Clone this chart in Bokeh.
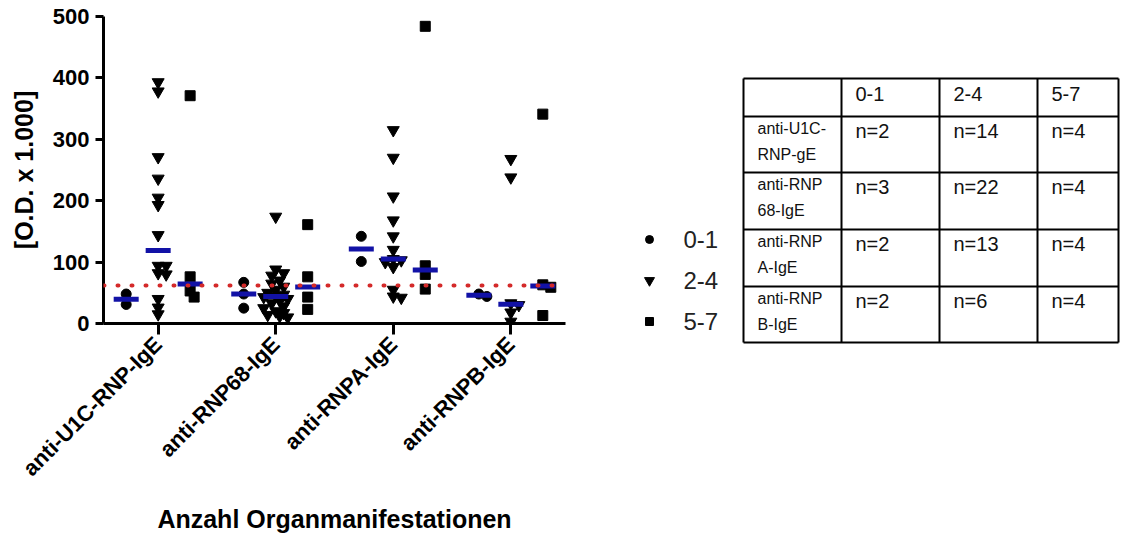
import numpy as np
from bokeh.plotting import figure
from bokeh.models import Range1d, FixedTicker, Span
from bokeh.layouts import row
from bokeh.embed import file_html
from bokeh.resources import INLINE
from bokeh.core.properties import value

# ---------------- data ----------------
categories = ["anti-U1C-RNP-IgE", "anti-RNP68-IgE", "anti-RNPA-IgE", "anti-RNPB-IgE"]
groups = ["0-1", "2-4", "5-7"]

u1c_01 = [48, 31]
u1c_24 = [393, 378, 271, 236, 205, 193, 144, 94, 94, 82, 80, 40, 26, 15]
u1c_57 = [371, 76, 53, 43]

rnp68_01 = [67, 48, 25]
rnp68_24 = [174, 88, 82, 78, 70, 65, 60, 55, 50, 47, 45, 43, 40, 37, 33, 28,
            25, 20, 17, 14, 12, 10]
rnp68_57 = [161, 76, 43, 23]

rnpa_01 = [142, 101]
rnpa_24 = [315, 270, 207, 168, 142, 120, 105, 103, 100, 92, 55, 44, 42]
rnpa_57 = [484, 94, 80, 56]

rnpb_01 = [48, 44]
rnpb_24 = [268, 238, 33, 30, 18, 3]
rnpb_57 = [341, 63, 59, 13]

cutoff = 62
y_ticks = [0, 100, 200, 300, 400, 500]

table_header = ["", "0-1", "2-4", "5-7"]
table_rows = [["anti-U1C-", "RNP-gE"], ["anti-RNP", "68-IgE"],
              ["anti-RNP", "A-IgE"], ["anti-RNP", "B-IgE"]]
table_n_01 = [2, 3, 2, 2]
table_n_24 = [14, 22, 13, 6]
table_n_57 = [4, 4, 4, 4]

series = {
    "0-1": [u1c_01, rnp68_01, rnpa_01, rnpb_01],
    "2-4": [u1c_24, rnp68_24, rnpa_24, rnpb_24],
    "5-7": [u1c_57, rnp68_57, rnpa_57, rnpb_57],
}

# ---------------- layout constants ----------------
FONT = "Liberation Sans"
FRAME_W, FRAME_H = 462, 307
X0, X1 = -0.465, 3.465
Y0, Y1 = 0, 500
PX_X = FRAME_W / (X1 - X0)
PX_Y = FRAME_H / (Y1 - Y0)
SUB_OFF = 0.272
markers = {"0-1": ("circle", 10), "2-4": ("inverted_triangle", 12), "5-7": ("square", 10)}


def swarm(vals, step=4.0, dmin=6.5):
    placed = []
    offs = [0.0] * len(vals)
    order = sorted(range(len(vals)), key=lambda i: -vals[i])
    cands = [0.0]
    for m in range(1, 4):
        cands += [m * step, -m * step]
    for i in order:
        ypx = vals[i] * PX_Y
        best, best_d = 0.0, -1
        for c in cands:
            d = min([((c - px) ** 2 + (ypx - py) ** 2) ** 0.5 for px, py in placed] or [99])
            if d >= dmin:
                best = c
                break
            if d > best_d:
                best, best_d = c, d
        placed.append((best, ypx))
        offs[i] = best / PX_X
    return offs


p = figure(frame_width=FRAME_W, frame_height=FRAME_H,
           x_range=Range1d(X0, X1), y_range=Range1d(Y0, Y1),
           output_backend="svg", toolbar_location=None,
           min_border_left=103, min_border_right=35, min_border_top=16,
           min_border_bottom=204, outline_line_color=None)
p.grid.visible = False

for j, g in enumerate(groups):
    xs, ys, mx, my = [], [], [], []
    for ci, vals in enumerate(series[g]):
        cx = ci + (j - 1) * SUB_OFF
        offs = swarm(vals)
        xs += [cx + o for o in offs]
        ys += list(vals)
        mx.append(cx)
        my.append(float(np.median(vals)))
    mk, sz = markers[g]
    p.scatter(x=xs, y=ys, marker=mk, size=sz, fill_color="black", line_color="black")
    p.rect(x=mx, y=my, width=25, height=5, width_units="screen",
           height_units="screen", fill_color="#1212a6", line_color=None)

p.add_layout(Span(location=cutoff, dimension="width", line_color="#d42a2a",
                  line_width=4, line_dash="1 13", line_cap="round"))

# axes
p.yaxis.ticker = FixedTicker(ticks=y_ticks)
p.xaxis.ticker = FixedTicker(ticks=list(range(len(categories))))
p.xaxis.major_label_overrides = {i: c for i, c in enumerate(categories)}
p.xaxis.major_label_orientation = np.pi / 4
for ax in (p.xaxis, p.yaxis):
    ax.axis_line_width = 3
    ax.axis_line_color = "black"
    ax.major_tick_line_width = 3
    ax.major_tick_line_color = "black"
    ax.major_tick_in = 0
    ax.minor_tick_out = 0
    ax.minor_tick_in = 0
    ax.major_label_text_font = FONT
    ax.major_label_text_font_style = "bold"
    ax.major_label_text_color = "black"
    ax.axis_label_text_font = FONT
    ax.axis_label_text_font_style = "bold"
    ax.axis_label_text_color = "black"
    ax.axis_label_text_font_size = "25px"
p.yaxis.major_tick_out = 8
p.yaxis.major_label_text_font_size = "22px"
p.yaxis.major_label_standoff = 6
p.yaxis.axis_label = "[O.D. x 1.000]"
p.yaxis.axis_label_standoff = 12
p.xaxis.major_tick_out = 11
p.xaxis.major_label_text_font_size = "22px"
p.xaxis.major_label_standoff = 6
p.xaxis.axis_label = "Anzahl Organmanifestationen"
p.xaxis.axis_label_standoff = 12

# ---------------- legend + table panel ----------------
P2_X0, P2_W, P2_H = 600, 526, 527
p2 = figure(frame_width=P2_W, frame_height=P2_H,
            x_range=Range1d(P2_X0, P2_X0 + P2_W), y_range=Range1d(P2_H, 0),
            output_backend="svg", toolbar_location=None, min_border=0,
            outline_line_color=None, x_axis_location=None, y_axis_location=None)
p2.grid.visible = False

# legend
LEG_X, LEG_Y, LEG_DY = 649, 223, 41
leg_y = [LEG_Y + k * LEG_DY for k in range(len(groups))]
for k, g in enumerate(groups):
    mk, sz = markers[g]
    p2.scatter(x=[LEG_X], y=[leg_y[k]], marker=mk, size=sz - 2,
               fill_color="black", line_color="black")
p2.text(x=[LEG_X + 34] * len(groups), y=leg_y, text=groups,
        text_font=value(FONT), text_font_size="24px", text_color="#222222",
        text_baseline="middle", text_align="left")

# table
T_LEFT, T_TOP = 743, 62
col_w = [98, 98, 98, 81]
row_h = [38, 56, 57, 57, 56]
col_x = [T_LEFT]
for w in col_w:
    col_x.append(col_x[-1] + w)
row_y = [T_TOP]
for h in row_h:
    row_y.append(row_y[-1] + h)

p2.segment(x0=col_x, y0=[row_y[0]] * len(col_x), x1=col_x, y1=[row_y[-1]] * len(col_x),
           line_color="black", line_width=2)
p2.segment(x0=[col_x[0]] * len(row_y), y0=row_y, x1=[col_x[-1]] * len(row_y), y1=row_y,
           line_color="black", line_width=2)

PAD = 14
p2.text(x=[col_x[c] + PAD for c in range(1, 4)], y=[row_y[0] + 15] * 3,
        text=table_header[1:], text_font=value(FONT), text_font_size="20px",
        text_color="#111111", text_baseline="middle", text_align="left")
lab_x, lab_y, lab_t = [], [], []
nx, ny, nt = [], [], []
for r in range(len(table_rows)):
    top = row_y[r + 1]
    lab_x += [col_x[0] + PAD, col_x[0] + PAD]
    lab_y += [top + 12, top + 38]
    lab_t += table_rows[r]
    for c, arr in enumerate([table_n_01, table_n_24, table_n_57]):
        nx.append(col_x[c + 1] + PAD)
        ny.append(top + 14)
        nt.append("n=%d" % arr[r])
p2.text(x=lab_x, y=lab_y, text=lab_t, text_font=value(FONT), text_font_size="16px",
        text_color="#111111", text_baseline="middle", text_align="left")
p2.text(x=nx, y=ny, text=nt, text_font=value(FONT), text_font_size="20px",
        text_color="#111111", text_baseline="middle", text_align="left")

layout = row(p, p2, spacing=0)
open("out.html", "w").write(file_html(layout, INLINE))
